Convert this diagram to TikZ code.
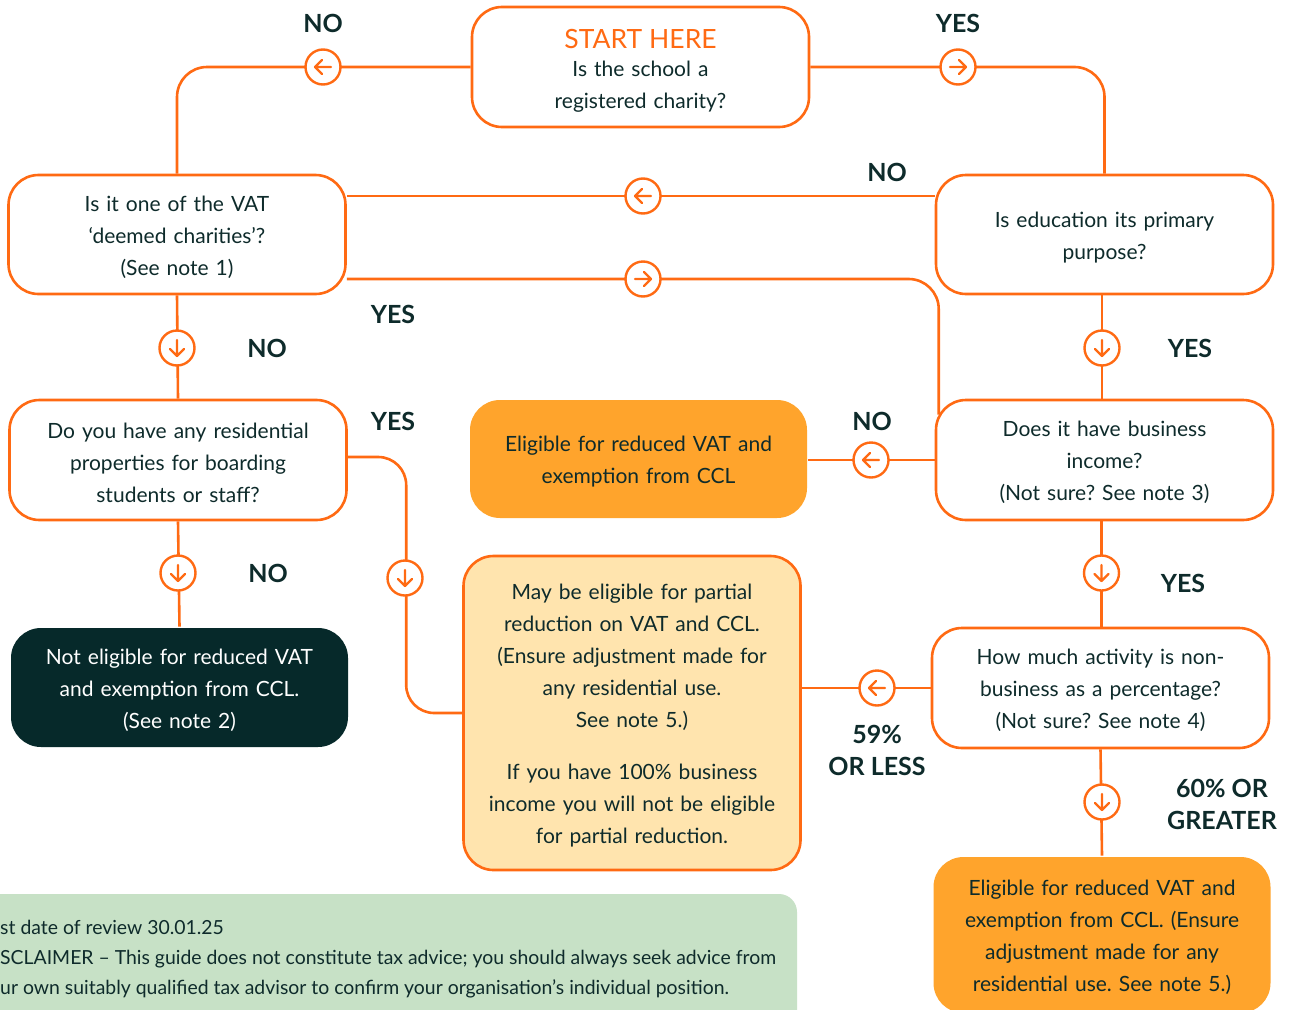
\documentclass[tikz,border=0pt]{standalone}
\usepackage{fontspec}
\setmainfont{Lato}
\frenchspacing
\definecolor{org}{HTML}{FF6A13}
\definecolor{fillorg}{HTML}{FFA42C}
\definecolor{fillpale}{HTML}{FFE4AE}
\definecolor{darkt}{HTML}{06292A}
\definecolor{txt}{HTML}{0E2B2B}
\definecolor{grn}{HTML}{C7E1C6}
\tikzset{
  box/.style={draw=org, line width=2.6pt, rounded corners=30pt, minimum width=337pt, minimum height=120pt,
    align=center, text=txt, font=\fontsize{21}{32}\selectfont, inner sep=0pt, text width=330pt,
    execute at begin node={\rule{0pt}{21pt}}},
  fbox/.style={box, draw=none, fill=fillorg},
  dbox/.style={box, draw=none, fill=darkt, text=white},
  pbox/.style={box, fill=fillpale},
  conn/.style={draw=org, line width=2.6pt, rounded corners=30pt},
  circ/.style={circle, draw=org, fill=white, line width=2.4pt, minimum size=35pt, inner sep=0pt},
  lbl/.style={font=\bfseries\fontsize{25}{30}\selectfont, text=txt, align=center, inner sep=0pt},
  arrL/.pic={\draw[org, line width=2.3pt, line cap=round, line join=round] (8,0)--(-8,0) (-1,-7)--(-8,0)--(-1,7);},
  arrR/.pic={\draw[org, line width=2.3pt, line cap=round, line join=round] (-8,0)--(8,0) (1,-7)--(8,0)--(1,7);},
  arrD/.pic={\draw[org, line width=2.3pt, line cap=round, line join=round] (0,-8)--(0,8) (-7,1)--(0,8)--(7,1);}
}
\begin{document}
\begin{tikzpicture}[x=1pt,y=-1pt]
\clip (0,0) rectangle (1292,1009);
\fill[white] (0,0) rectangle (1292,1009);

% disclaimer panel
\node[fill=grn, rounded corners=18pt, minimum width=860pt, minimum height=140pt, inner sep=0pt] (disc) at (367,964) {};
\node[anchor=north west, align=left, text=txt, font=\fontsize{19.4}{30}\selectfont, inner sep=0pt] (disctext) at (0,920)
 {st date of review 30.01.25\\
  SCLAIMER -- This guide does not constitute tax advice; you should always seek advice from\\
  ur own suitably qualified tax advisor to confirm your organisation's individual position.};

% boxes
\node[box] (start) at (640.5,67) {\rule{0pt}{27pt}{\color{org}\fontsize{26.5}{30}\selectfont START HERE}\\[-4pt]Is the school a\\registered charity?};
\node[box, minimum height=119pt] (deemed) at (177,234.5) {Is it one of the VAT\\`deemed charities'?\\(See note 1)};
\node[box, minimum height=119pt] (edu) at (1104.5,234.5) {Is education its primary\\purpose?};
\node[box] (resid) at (178,460) {Do you have any residential\\properties for boarding\\students or staff?};
\node[fbox, minimum height=118pt] (elig1) at (638.5,459) {Eligible for reduced VAT and\\exemption from CCL};
\node[box] (bus) at (1104.5,460) {Does it have business\\income?\\(Not sure? See note 3)};
\node[dbox, minimum height=119pt] (noelig) at (179.5,687.5) {Not eligible for reduced VAT\\and exemption from CCL.\\(See note 2)};
\node[pbox, minimum height=314pt] (may) at (632,713) {May be eligible for partial\\reduction on VAT and CCL.\\(Ensure adjustment made for\\any residential use.\\See note 5.)\\[20pt]If you have 100\% business\\income you will not be eligible\\for partial reduction.};
\node[box] (how) at (1100.5,688) {How much activity is non-\\business as a percentage?\\(Not sure? See note 4)};
\node[fbox, minimum height=156pt] (elig2) at (1102,935) {Eligible for reduced VAT and\\exemption from CCL. (Ensure\\adjustment made for any\\residential use. See note 5.)};

% connectors
\draw[conn] (start.west) -| (deemed.north);
\draw[conn] (start.east) -| (edu.north);
\draw[conn] ([yshift=38.5pt]edu.west) -- ([yshift=38.5pt]deemed.east);
\draw[conn] ([yshift=-44.5pt]deemed.east) -| ([xshift=4pt,yshift=-16pt]bus.north west);
\draw[conn] (deemed.south) -- (resid.north);
\draw[conn] ([xshift=-2.5pt]edu.south) -- ([xshift=-2.5pt]bus.north);
\draw[conn] (bus.west) -- (bus.west -| elig1.east);
\draw[conn, rounded corners=28pt] ([yshift=3pt]resid.east) -| ([xshift=-56pt]may.west) -- (may.west);
\draw[conn] (resid.south) -- (noelig.north);
\draw[conn] ([xshift=-3pt]bus.south) -- ([xshift=-3pt]bus.south |- how.north);
\draw[conn] (how.west) -- (how.west -| may.east);
\draw[conn] (how.south) -- (elig2.north);

% arrow circles
\node[circ] (c1) at (323,67) {};   \pic at (c1) {arrL};
\node[circ] (c2) at (958,67) {};   \pic at (c2) {arrR};
\node[circ] (c3) at (643,196) {};  \pic at (c3) {arrL};
\node[circ] (c4) at (643,279) {};  \pic at (c4) {arrR};
\node[circ] (c5) at (177,348) {};  \pic at (c5) {arrD};
\node[circ] (c6) at (1102,348) {}; \pic at (c6) {arrD};
\node[circ] (c7) at (871,460) {};  \pic at (c7) {arrL};
\node[circ] (c8) at (405,578) {};  \pic at (c8) {arrD};
\node[circ] (c9) at (178,573) {};  \pic at (c9) {arrD};
\node[circ] (c10) at (1101.5,573) {}; \pic at (c10) {arrD};
\node[circ] (c11) at (877,688) {}; \pic at (c11) {arrL};
\node[circ] (c12) at (1102,802) {}; \pic at (c12) {arrD};

% labels
\node[lbl] (l1) at (323,23) {NO};
\node[lbl] (l2) at (958,23) {YES};
\node[lbl] (l3) at (887,172) {NO};
\node[lbl] (l4) at (393,314) {YES};
\node[lbl] (l5) at (267,348) {NO};
\node[lbl] (l6) at (1190,348) {YES};
\node[lbl] (l7) at (393,421) {YES};
\node[lbl] (l8) at (872,421) {NO};
\node[lbl] (l9) at (268,573) {NO};
\node[lbl] (l10) at (1183,583) {YES};
\node[lbl, font=\bfseries\fontsize{25}{32}\selectfont] (l11) at (877,750) {59\%\\OR LESS};
\node[lbl, font=\bfseries\fontsize{25}{32}\selectfont] (l12) at (1222,804) {60\% OR\\GREATER};
\end{tikzpicture}
\end{document}
